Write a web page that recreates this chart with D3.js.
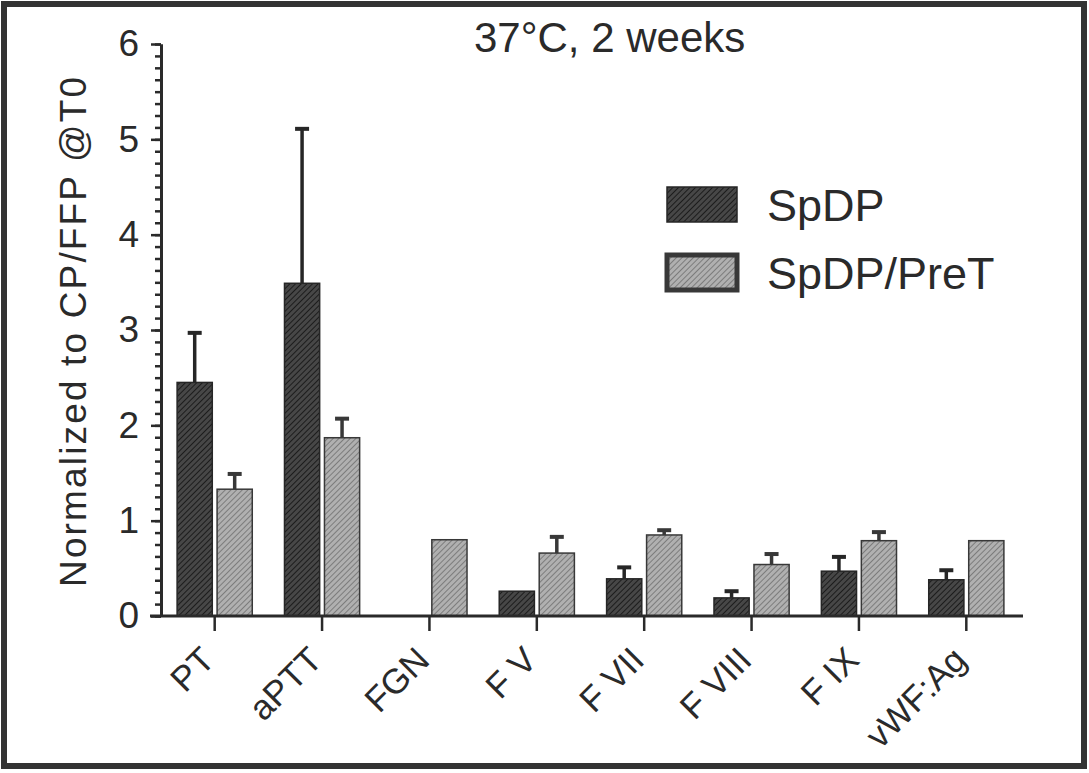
<!DOCTYPE html>
<html>
<head>
<meta charset="utf-8">
<script src="https://d3js.org/d3.v7.min.js"></script>
<style>
  body { margin: 0; background: #fff; }
  text { font-family: "Liberation Sans", Arial, sans-serif; fill: #2a2a2a; }
</style>
</head>
<body>
<div class="chart"></div>
<script>
// data
var categories = ["PT", "aPTT", "FGN", "F V", "F VII", "F VIII", "F IX", "vWF:Ag"];
var series = ["SpDP", "SpDP/PreT"];
var spdp    = [2.45, 3.49, 0,    0.26, 0.39, 0.19, 0.47, 0.38];
var spdpErr = [0.52, 1.62, 0,    0,    0.12, 0.07, 0.15, 0.10];
var pret    = [1.33, 1.87, 0.80, 0.66, 0.85, 0.54, 0.79, 0.79];
var pretErr = [0.16, 0.20, 0,    0.17, 0.05, 0.11, 0.09, 0];
var yTicks = [0, 1, 2, 3, 4, 5, 6];

//Width and height
var w = 1089,
    h = 773;

var svg = d3.select("div.chart")
            .append("svg")
            .attr("width", w)
            .attr("height", h);

// hatch fills, like the scanned halftone
var defs = svg.append("defs");
var pDark = defs.append("pattern")
    .attr("id", "hatchDark")
    .attr("patternUnits", "userSpaceOnUse")
    .attr("width", 4).attr("height", 4)
    .attr("patternTransform", "rotate(45)");
pDark.append("rect").attr("width", 4).attr("height", 4).attr("fill", "#474747");
pDark.append("line").attr("x1", 0).attr("y1", 0).attr("x2", 0).attr("y2", 4)
    .attr("stroke", "#1c1c1c").attr("stroke-width", 2);

var pLight = defs.append("pattern")
    .attr("id", "hatchLight")
    .attr("patternUnits", "userSpaceOnUse")
    .attr("width", 4).attr("height", 4)
    .attr("patternTransform", "rotate(45)");
pLight.append("rect").attr("width", 4).attr("height", 4).attr("fill", "#b0b0b0");
pLight.append("line").attr("x1", 0).attr("y1", 0).attr("x2", 0).attr("y2", 4)
    .attr("stroke", "#6a6a6a").attr("stroke-width", 1.5);

var fills = {"SpDP": "url(#hatchDark)", "SpDP/PreT": "url(#hatchLight)"};
var strokes = {"SpDP": "#262626", "SpDP/PreT": "#383838"};

// outer frame
svg.append("rect")
    .attr("x", 4).attr("y", 4)
    .attr("width", w - 9).attr("height", h - 11)
    .attr("fill", "none")
    .attr("stroke", "#333")
    .attr("stroke-width", 6);

// scales
var y = d3.scaleLinear().domain([0, 6]).range([616, 44]);
var x0 = d3.scaleBand()
    .domain(categories)
    .range([161, 1020])
    .paddingInner(0.3)
    .paddingOuter(0.15);
var x1 = d3.scaleBand()
    .domain(series)
    .range([0, x0.bandwidth()])
    .paddingInner(0.12);

var rows = categories.map(function(c, i) {
    return {cat: c, vals: [
        {s: "SpDP", v: spdp[i], e: spdpErr[i]},
        {s: "SpDP/PreT", v: pret[i], e: pretErr[i]}
    ]};
});

var groups = svg.selectAll("g.cat")
    .data(rows)
    .enter()
    .append("g")
    .attr("class", "cat")
    .attr("transform", function(d) { return "translate(" + x0(d.cat) + ",0)"; });

var items = groups.selectAll("g.bar")
    .data(function(d) { return d.vals.filter(function(b) { return b.v > 0; }); })
    .enter()
    .append("g")
    .attr("class", "bar");

// error whiskers (upper only)
items.filter(function(d) { return d.e > 0; })
    .append("line")
    .attr("x1", function(d) { return x1(d.s) + x1.bandwidth() / 2; })
    .attr("x2", function(d) { return x1(d.s) + x1.bandwidth() / 2; })
    .attr("y1", function(d) { return y(d.v); })
    .attr("y2", function(d) { return y(d.v + d.e); })
    .attr("stroke", function(d) { return strokes[d.s]; })
    .attr("stroke-width", 3.5);

items.filter(function(d) { return d.e > 0; })
    .append("line")
    .attr("x1", function(d) { return x1(d.s) + x1.bandwidth() / 2 - 7; })
    .attr("x2", function(d) { return x1(d.s) + x1.bandwidth() / 2 + 7; })
    .attr("y1", function(d) { return y(d.v + d.e); })
    .attr("y2", function(d) { return y(d.v + d.e); })
    .attr("stroke", function(d) { return strokes[d.s]; })
    .attr("stroke-width", 4);

items.append("rect")
    .attr("x", function(d) { return x1(d.s); })
    .attr("y", function(d) { return y(d.v); })
    .attr("width", x1.bandwidth())
    .attr("height", function(d) { return y(0) - y(d.v); })
    .attr("fill", function(d) { return fills[d.s]; })
    .attr("stroke", function(d) { return strokes[d.s]; })
    .attr("stroke-width", 1.5);

// y axis, minor then major ticks
var yMinor = svg.append("g")
    .attr("transform", "translate(161,0)")
    .call(d3.axisLeft(y).tickValues(d3.range(0, 6.0001, 0.125)).tickSize(6).tickSizeOuter(0).tickFormat(""));

var yAxis = svg.append("g")
    .attr("transform", "translate(161,0)")
    .call(d3.axisLeft(y).tickValues(yTicks).tickSize(10).tickSizeOuter(0).tickPadding(12).tickFormat(d3.format("d")));

yAxis.selectAll("text")
    .attr("font-size", "37px")
    .style("font-family", "'Liberation Sans', Arial, sans-serif")
    .attr("fill", "#2a2a2a");

[yMinor, yAxis].forEach(function(g) {
    g.selectAll("line").attr("stroke", "#2a2a2a").attr("stroke-width", 2.5);
    g.select(".domain").attr("stroke", "#2a2a2a").attr("stroke-width", 3);
});

// x axis
var xAxis = svg.append("g")
    .attr("transform", "translate(0," + y(0) + ")")
    .call(d3.axisBottom(x0).tickSize(15).tickSizeOuter(0).tickFormat(""));

xAxis.select(".domain")
    .attr("d", "M" + (x0.range()[0] - 11) + ",0H" + (x0.range()[1] + 3))
    .attr("stroke", "#2a2a2a")
    .attr("stroke-width", 3);
xAxis.selectAll("line").attr("stroke", "#2a2a2a").attr("stroke-width", 2.5);

svg.selectAll("text.xlab")
    .data(categories)
    .enter()
    .append("text")
    .attr("class", "xlab")
    .attr("transform", function(d) {
        return "translate(" + (x0(d) + x0.bandwidth() / 2 + 2) + "," + (y(0) + 46) + ") rotate(-45)";
    })
    .attr("text-anchor", "end")
    .attr("font-size", "35px")
    .text(function(d) { return d; });

// y label
svg.append("text")
    .attr("transform", "translate(86,332) rotate(-90)")
    .attr("text-anchor", "middle")
    .attr("font-size", "37px")
    .attr("textLength", 510)
    .attr("lengthAdjust", "spacing")
    .text("Normalized to CP/FFP @T0");

// title
svg.append("text")
    .attr("x", 474)
    .attr("y", 52)
    .attr("font-size", "42px")
    .text("37°C, 2 weeks");

// legend
var legend = svg.selectAll("g.legend")
    .data(series)
    .enter()
    .append("g")
    .attr("class", "legend")
    .attr("transform", function(d, i) { return "translate(667," + (187 + i * 68) + ")"; });

legend.append("rect")
    .attr("width", 70)
    .attr("height", 35)
    .attr("fill", function(d) { return fills[d]; })
    .attr("stroke", function(d) { return strokes[d]; })
    .attr("stroke-width", function(d, i) { return i ? 5 : 1.5; });

legend.append("text")
    .attr("x", 100)
    .attr("y", 34)
    .attr("font-size", "45px")
    .text(function(d) { return d; });
</script>
</body>
</html>
